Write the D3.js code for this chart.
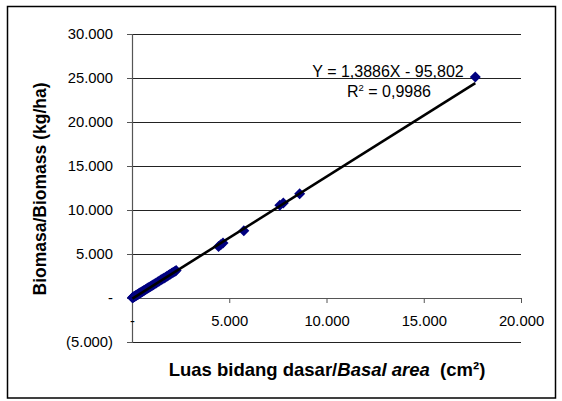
<!DOCTYPE html>
<html>
<head>
<meta charset="utf-8">
<script src="https://cdn.jsdelivr.net/npm/d3@7"></script>
<style>
  body { margin: 0; background: #fff; }
  text { font-family: Arial, "Liberation Sans", sans-serif; fill: #000; }
</style>
</head>
<body>
<div id="chart-area"></div>
<script>
// basal area (cm2) and biomass (kg/ha)
var basalArea = [20, 45, 70, 95, 120, 150, 180, 210, 245, 280, 320, 360, 400, 445, 490,
                 540, 590, 640, 700, 760, 820, 880, 950, 1020, 1090, 1160, 1240, 1320,
                 1400, 1480, 1560, 1640, 1720, 1800, 1880, 1960, 2040, 2120, 2200, 2270,
                 4450, 4560, 4680, 5750, 7600, 7780, 8620, 17650];
var biomass = [30, 60, 95, 140, 170, 205, 250, 290, 330, 380, 440, 500, 560, 610, 680,
               750, 820, 880, 960, 1050, 1130, 1210, 1300, 1400, 1500, 1600, 1700, 1810,
               1930, 2040, 2150, 2250, 2370, 2480, 2580, 2700, 2800, 2920, 3020, 3120,
               5850, 6050, 6250, 7650, 10550, 10800, 11850, 25100];
var xTicks = [0, 5000, 10000, 15000, 20000];
var yTicks = [-5000, 0, 5000, 10000, 15000, 20000, 25000, 30000];
var slope = 1.3886, intercept = -95.802;
var eqLabel = 'Y = 1,3886X - 95,802';
var r2Label = ' = 0,9986';

var margin = { top: 34, left: 132, bottom: 59, right: 41 };
var width = 562 - margin.left - margin.right;
var height = 401 - margin.top - margin.bottom;

var svg = d3.select('#chart-area').append('svg')
    .attr('width', 562)
    .attr('height', 401);

svg.append('rect')
    .attr('x', 7.5).attr('y', 6.5)
    .attr('width', 548).attr('height', 391.5)
    .attr('fill', 'none')
    .attr('stroke', '#000')
    .attr('stroke-width', 1.5);

var g = svg.append('g').attr('transform', `translate(${margin.left}, ${margin.top})`);

var x = d3.scaleLinear().domain([0, 20000]).range([0, width]);
var y = d3.scaleLinear().domain([-5000, 30000]).range([height, 0]);

var loc = d3.formatLocale({ decimal: ',', thousands: '.', grouping: [3], currency: ['', ''] });
var fmt = loc.format(',d');
function acct(d) {
    if (d === 0) return '-';
    return d < 0 ? '(' + fmt(-d) + ')' : fmt(d);
}

// gridlines
g.append('g').selectAll('line')
    .data(yTicks)
    .enter().append('line')
        .attr('x1', 0).attr('x2', width)
        .attr('y1', d => Math.round(y(d)) + 0.5)
        .attr('y2', d => Math.round(y(d)) + 0.5)
        .attr('stroke', '#222')
        .attr('stroke-width', 1);

var yAxis = g.append('g')
    .call(d3.axisLeft(y).tickValues(yTicks).tickSize(5).tickPadding(14).tickFormat(acct));

var xAxis = g.append('g')
    .attr('transform', `translate(0, ${y(0)})`)
    .call(d3.axisBottom(x).tickValues(xTicks).tickSize(5).tickPadding(12).tickFormat(acct));

[xAxis, yAxis].forEach(a => {
    a.select('.domain').attr('stroke', '#555').attr('stroke-width', 1.2);
    a.selectAll('.tick line').attr('stroke', '#555');
    a.selectAll('text').attr('font-size', '14.8px').attr('font-family', 'Arial, "Liberation Sans", sans-serif');
});
xAxis.select('.domain').attr('d', `M0,0.5H${width}`);

// points
var data = basalArea.map((v, i) => ({ x: v, y: biomass[i] }));
var diamond = 'M0,-5.5L5.5,0L0,5.5L-5.5,0Z';
g.append('g').selectAll('path')
    .data(data)
    .enter().append('path')
        .attr('d', diamond)
        .attr('transform', d => `translate(${x(d.x)}, ${y(d.y)})`)
        .attr('fill', '#000080');

// linear trendline
var xr = d3.extent(basalArea);
g.append('line')
    .attr('x1', x(xr[0])).attr('y1', y(slope * xr[0] + intercept))
    .attr('x2', x(xr[1])).attr('y2', y(slope * xr[1] + intercept))
    .attr('stroke', '#000')
    .attr('stroke-width', 2.6);

g.append('text')
    .attr('x', 256).attr('y', 43)
    .attr('text-anchor', 'middle')
    .attr('font-size', '16px')
    .text(eqLabel);

var r2 = g.append('text')
    .attr('x', 257).attr('y', 63)
    .attr('text-anchor', 'middle')
    .attr('font-size', '16px');
r2.append('tspan').text('R');
r2.append('tspan').attr('font-size', '9.5px').attr('dy', -6.5).text('2');
r2.append('tspan').attr('dy', 6.5).text(r2Label);

// axis titles
svg.append('text')
    .attr('transform', 'translate(46, 189) rotate(-90)')
    .attr('text-anchor', 'middle')
    .attr('font-size', '17.5px')
    .attr('font-weight', 'bold')
    .text('Biomasa/Biomass (kg/ha)');

var xt = svg.append('text')
    .attr('x', 327).attr('y', 376)
    .attr('text-anchor', 'middle')
    .attr('font-size', '18.5px')
    .attr('font-weight', 'bold');
xt.append('tspan').text('Luas bidang dasar/');
xt.append('tspan').attr('font-style', 'italic').text('Basal area');
xt.append('tspan').attr('xml:space', 'preserve').text('\u00a0 (cm\u00b2)');
</script>
</body>
</html>
